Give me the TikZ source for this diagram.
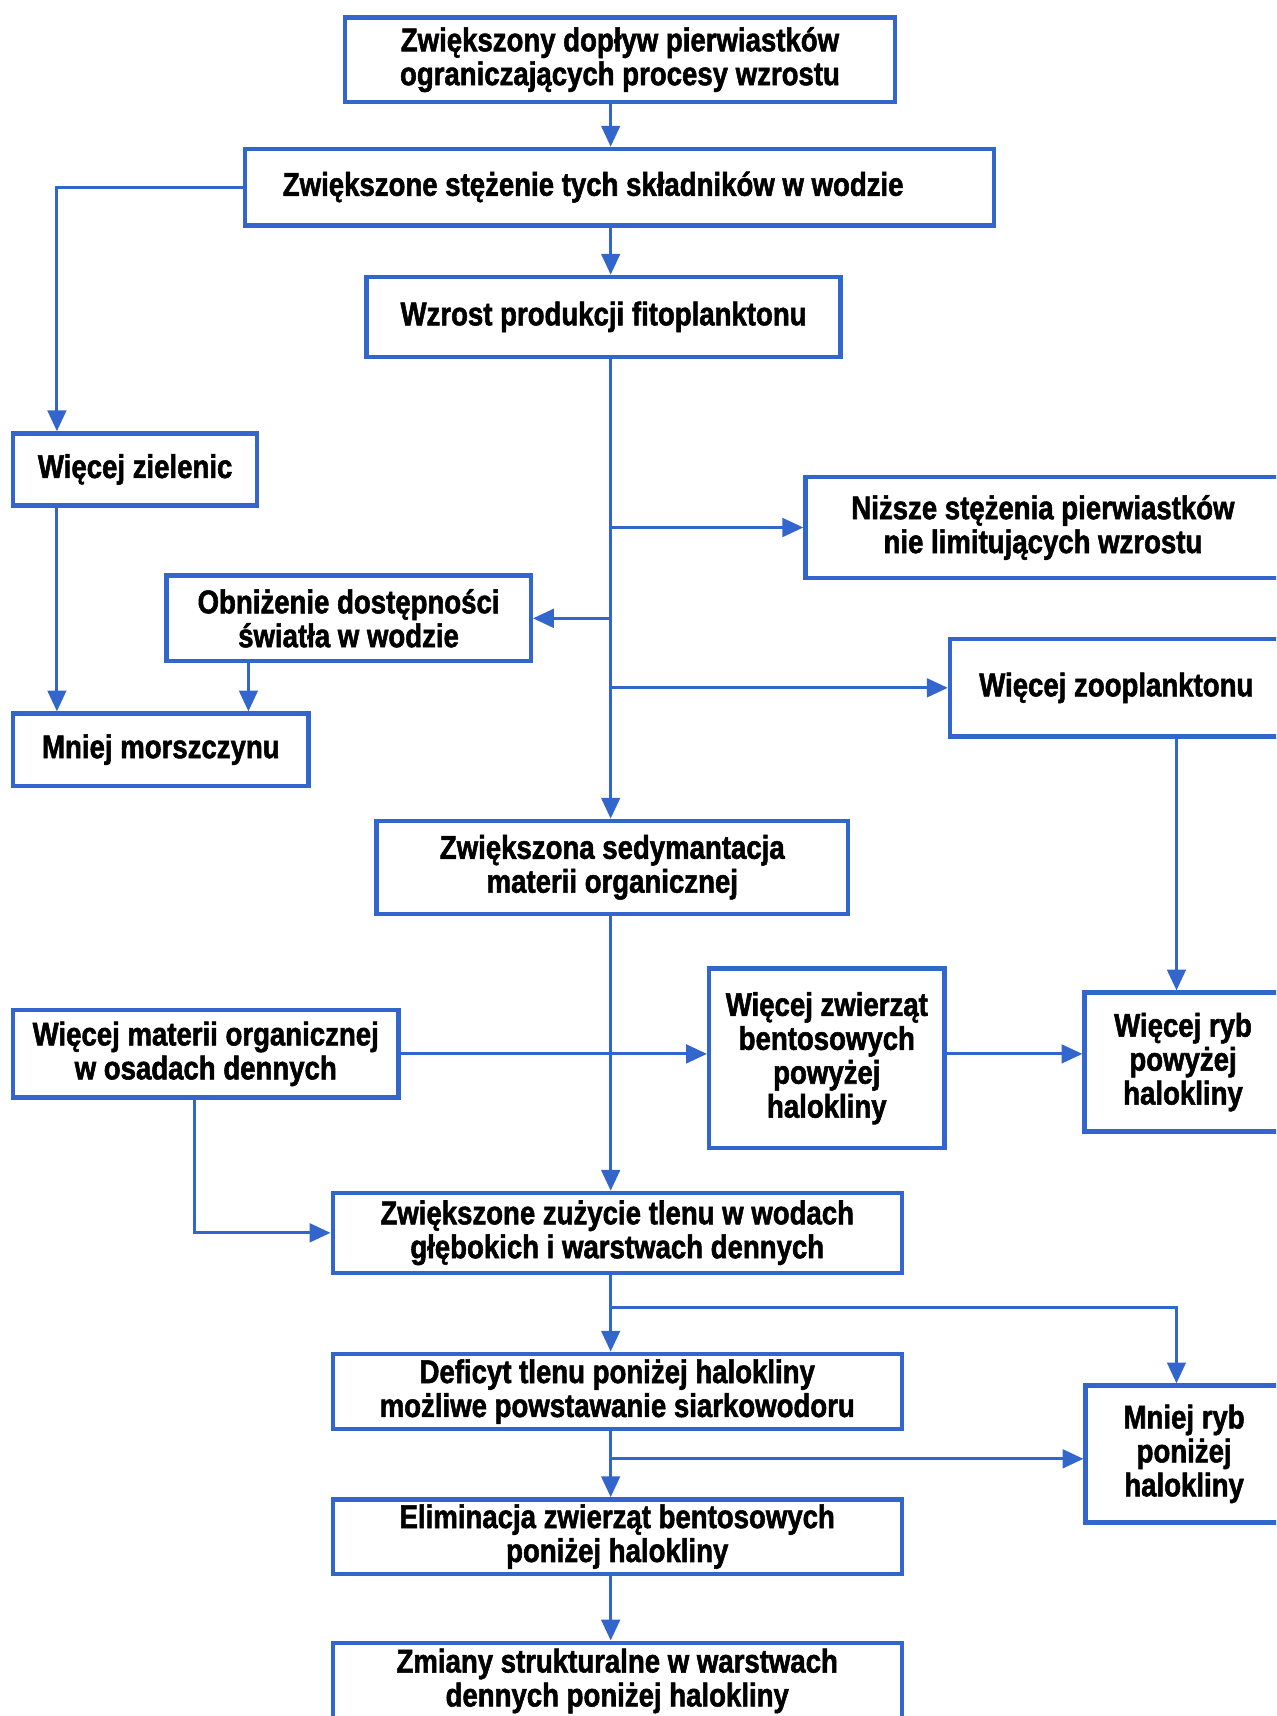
\documentclass[tikz,border=0pt]{standalone}
\usepackage{fontspec}
\newfontfamily\boxfont[FakeStretch=0.84, BoldFeatures={FakeBold=1.6}]{Liberation Sans}
\usetikzlibrary{arrows.meta}
\definecolor{flowblue}{RGB}{51,102,204}

\begin{document}
\begin{tikzpicture}[x=1pt, y=-1pt,
    box/.style={draw=flowblue, line width=4pt, fill=white, inner sep=0pt, align=center,
        font=\boxfont\bfseries\fontsize{30}{31}\selectfont},
    link/.style={flowblue, line width=2.6pt, -{Triangle[length=19pt, width=17pt]}}]
    \useasboundingbox (0,0) rectangle (1166,1568);
    \clip (0,0) rectangle (1166,1568);

    \coordinate (trunk) at (558,0);
    \coordinate (leftx) at (52,0);
    \coordinate (lightx) at (227,0);
    \coordinate (sedx) at (178,0);
    \coordinate (fishx) at (1075,0);

    \node[box, minimum width=503pt, minimum height=77pt] (doplyw) at (566.5,54.5)
        {Zwiększony dopływ pierwiastków\\ograniczających procesy wzrostu};
    \node[box, minimum width=684pt, minimum height=70pt] (stezenie) at (566,171)
        {Zwiększone stężenie tych składników w wodzie\hspace*{48pt}};
    \node[box, minimum width=433pt, minimum height=73pt] (fito) at (551.5,289.5)
        {Wzrost produkcji fitoplanktonu};
    \node[box, minimum width=223pt, minimum height=66pt] (zielenice) at (123.5,429)
        {Więcej zielenic};
    \node[box, minimum width=434pt, minimum height=92pt] (nizsze) at (953,482)
        {Niższe stężenia pierwiastków\\nie limitujących wzrostu};
    \node[box, minimum width=333pt, minimum height=78pt] (swiatlo) at (318.5,565)
        {Obniżenie dostępności\\światła w wodzie};
    \node[box, minimum width=304pt, minimum height=89pt] (zoo) at (1020,628.5)
        {Więcej zooplanktonu};
    \node[box, minimum width=270pt, minimum height=66pt] (morszczyn) at (147,685)
        {Mniej morszczynu};
    \node[box, minimum width=431pt, minimum height=85pt] (sedym) at (559.5,792.5)
        {Zwiększona sedymantacja\\materii organicznej};
    \node[box, minimum width=352pt, minimum height=80pt] (osady) at (188,963)
        {Więcej materii organicznej\\w osadach dennych};
    \node[box, minimum width=215pt, minimum height=164pt] (bentos) at (755.5,967)
        {Więcej zwierząt\\bentosowych\\powyżej\\halokliny};
    \node[box, minimum width=180pt, minimum height=127pt] (rybyup) at (1081,970.5)
        {Więcej ryb\\powyżej\\halokliny};
    \node[box, minimum width=520pt, minimum height=73pt] (tlen) at (564,1126.5)
        {Zwiększone zużycie tlenu w wodach\\głębokich i warstwach dennych};
    \node[box, minimum width=180pt, minimum height=125pt] (rybydown) at (1082,1328.5)
        {Mniej ryb\\poniżej\\halokliny};
    \node[box, minimum width=520pt, minimum height=69pt] (deficyt) at (564,1271.5)
        {Deficyt tlenu poniżej halokliny\\możliwe powstawanie siarkowodoru};
    \node[box, minimum width=520pt, minimum height=68pt] (elimin) at (564,1404)
        {Eliminacja zwierząt bentosowych\\poniżej halokliny};
    \node[box, minimum width=520pt, minimum height=70pt] (zmiany) at (564,1536)
        {Zmiany strukturalne w warstwach\\dennych poniżej halokliny};

    \coordinate (split1) at (558,1195);
    \coordinate (split2) at (558,1333);

    \draw[link] (doplyw.south -| trunk) -- (stezenie.north -| trunk);
    \draw[link] (stezenie.south -| trunk) -- (fito.north -| trunk);
    \draw[link] (stezenie.west) -| (zielenice.north -| leftx);
    \draw[link] (zielenice.south -| leftx) -- (morszczyn.north -| leftx);
    \draw[link] (swiatlo.south -| lightx) -- (morszczyn.north -| lightx);
    \draw[link] (fito.south -| trunk) -- (sedym.north -| trunk);
    \draw[link] (nizsze.west -| trunk) -- (nizsze.west);
    \draw[link] (swiatlo.east -| trunk) -- (swiatlo.east);
    \draw[link] (zoo.west -| trunk) -- (zoo.west);
    \draw[link] (zoo.south -| fishx) -- (rybyup.north -| fishx);
    \draw[link] (osady.east) -- (osady.east -| bentos.west);
    \draw[link] (osady.east -| bentos.east) -- (osady.east -| rybyup.west);
    \draw[link] (osady.south -| sedx) |- (tlen.west);
    \draw[link] (sedym.south -| trunk) -- (tlen.north -| trunk);
    \draw[link] (tlen.south -| trunk) -- (deficyt.north -| trunk);
    \draw[link] (split1) -| (rybydown.north -| fishx);
    \draw[link] (deficyt.south -| trunk) -- (elimin.north -| trunk);
    \draw[link] (split2) -- (split2 -| rybydown.west);
    \draw[link] (elimin.south -| trunk) -- (zmiany.north -| trunk);
\end{tikzpicture}
\end{document}
